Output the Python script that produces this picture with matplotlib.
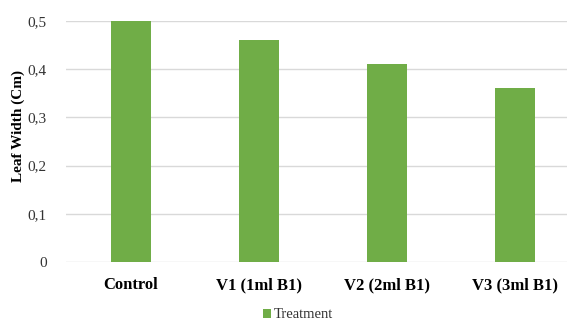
import matplotlib
matplotlib.use("Agg")
import matplotlib.pyplot as plt
from matplotlib.ticker import FuncFormatter

categories = ["Control", "V1 (1ml B1)", "V2 (2ml B1)", "V3 (3ml B1)"]
leaf_width = [0.50, 0.46, 0.41, 0.36]
y_ticks = [0, 0.1, 0.2, 0.3, 0.4, 0.5]
series_name = "Treatment"

W, H = 567, 322
fig = plt.figure(figsize=(W / 100, H / 100), dpi=100)
ax = fig.add_axes([66 / W, 1 - 262 / H, (567 - 66) / W, (262 - 21) / H])

green = "#70AD47"
serif = ["Liberation Serif", "DejaVu Serif"]

x = list(range(len(categories)))
ax.bar(x, leaf_width, width=0.3125, color=green, label=series_name, zorder=3)

ax.set_xlim(-0.508, 3.406)
ax.set_ylim(0, 0.5)
ax.set_yticks(y_ticks)
ax.yaxis.set_major_formatter(
    FuncFormatter(lambda v, _: "0" if v == 0 else f"{v:.1f}".replace(".", ","))
)
ax.grid(axis="y", color="#D9D9D9", linewidth=1.0, zorder=0)
for s in ax.spines.values():
    s.set_visible(False)
ax.tick_params(axis="both", length=0)
ax.tick_params(axis="y", pad=14, labelsize=11, labelcolor="#333333")
ax.tick_params(axis="x", pad=11)
for lab in ax.get_yticklabels():
    lab.set_family(serif)

ax.set_xticks(x)
ax.set_xticklabels(categories, family=serif, fontweight="bold", fontsize=12)

fig.text(18 / W, 1 - 126 / H, "Leaf Width (Cm)", rotation=90, ha="center",
         va="center", family=serif, fontweight="bold", fontsize=11)

leg = fig.legend(loc="center", bbox_to_anchor=(298 / W, 1 - 315 / H), frameon=False,
                 handlelength=0.55, handleheight=0.55, handletextpad=0.25,
                 borderpad=0, prop={"family": serif, "size": 10.5})
for t in leg.get_texts():
    t.set_color("#333333")

fig.savefig("out.png", dpi=100, facecolor="white")
